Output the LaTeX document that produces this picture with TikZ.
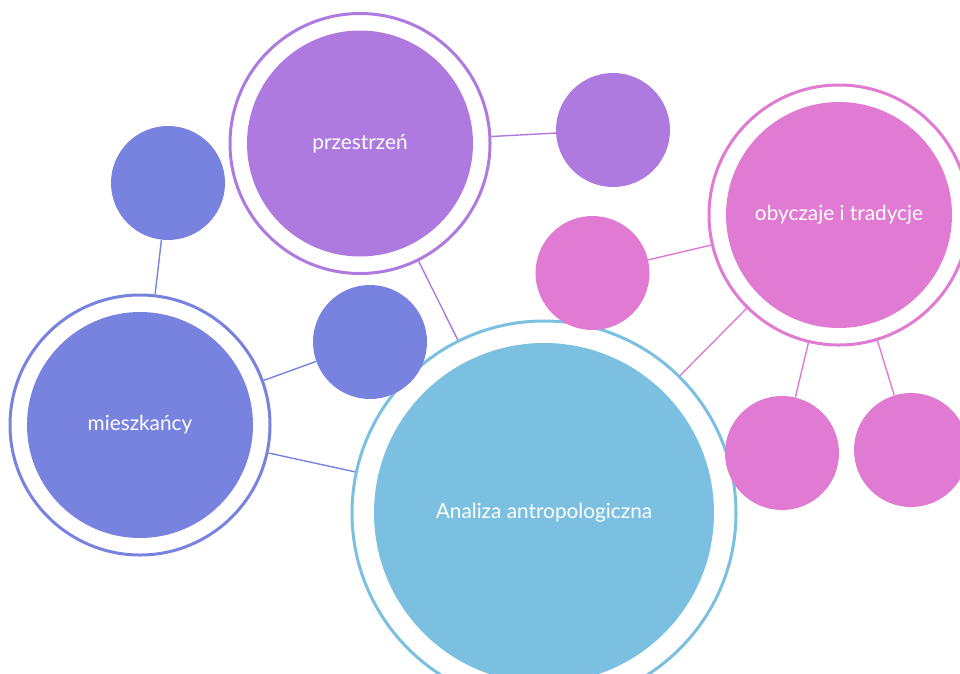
\documentclass[tikz,border=0pt]{standalone}
\usepackage{fontspec}
\setmainfont{Lato}
\definecolor{azulvio}{HTML}{7882DF}
\definecolor{morado}{HTML}{AF7ADF}
\definecolor{rosa}{HTML}{E07AD2}
\definecolor{celeste}{HTML}{7BC0E0}
\begin{document}
\begin{tikzpicture}[x=1pt, y=-1pt,
	disco/.style={circle, fill=#1, draw=none, inner sep=0pt, text=white, font=\fontsize{20.8}{23}\selectfont},
	anillo/.style={circle, draw=#1, line width=3pt, inner sep=0pt},
	enlace/.style={draw=#1, line width=1.4pt}]
	\useasboundingbox (0,0) rectangle (960,673);
	\clip (0,0) rectangle (960,673);
	% Circulo central
		\node[anillo=celeste, minimum size=384pt] (anaR) at (544,513) {};
		\node[disco=celeste, minimum size=340pt] (ana) at (544,513) {Analiza antropologiczna};
	% Mieszkancy
		\node[anillo=azulvio, minimum size=260pt] (mieR) at (140,425) {};
		\node[disco=azulvio, minimum size=226pt] (mie) at (140,425) {mieszkańcy};
		\node[disco=azulvio, minimum size=114pt] (mieA) at (168,183) {};
		\node[disco=azulvio, minimum size=114pt] (mieB) at (370,342) {};
	% Przestrzen
		\node[anillo=morado, minimum size=260pt] (przR) at (360,143.5) {};
		\node[disco=morado, minimum size=226pt] (prz) at (360,143.5) {przestrzeń};
		\node[disco=morado, minimum size=114pt] (przA) at (613,130) {};
	% Obyczaje
		\node[anillo=rosa, minimum size=260pt] (obyR) at (839,215) {};
		\node[disco=rosa, minimum size=226pt] (oby) at (839,215) {obyczaje i tradycje};
		\node[disco=rosa, minimum size=114pt] (obyA) at (592.5,273) {};
		\node[disco=rosa, minimum size=114pt] (obyB) at (782,453) {};
		\node[disco=rosa, minimum size=114pt] (obyC) at (911,450) {};
	% Enlaces
		\draw[enlace=azulvio] (mieA) -- (mieR);
		\draw[enlace=azulvio] (mieR) -- (mieB);
		\draw[enlace=azulvio] (mieR) -- (anaR);
		\draw[enlace=morado] (przR) -- (anaR);
		\draw[enlace=morado] (przR) -- (przA);
		\draw[enlace=rosa] (obyA) -- (obyR);
		\draw[enlace=rosa] (obyR) -- (anaR);
		\draw[enlace=rosa] (obyR) -- (obyB);
		\draw[enlace=rosa] (obyR) -- (obyC);
\end{tikzpicture}
\end{document}
